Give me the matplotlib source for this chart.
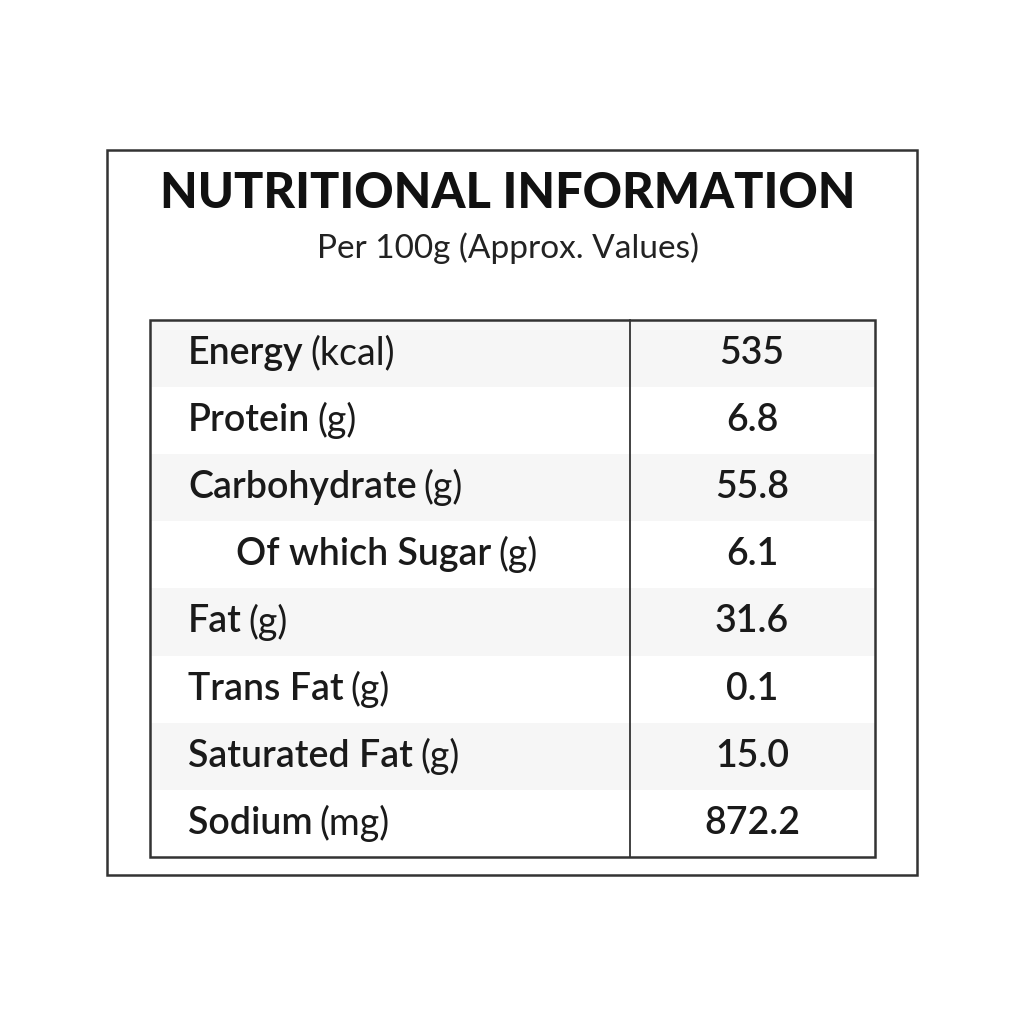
import matplotlib
matplotlib.use("Agg")
import matplotlib.pyplot as plt
from matplotlib.patches import Rectangle

nutrients = ["Energy", "Protein", "Carbohydrate", "Of which Sugar", "Fat", "Trans Fat", "Saturated Fat", "Sodium"]
units = ["(kcal)", "(g)", "(g)", "(g)", "(g)", "(g)", "(g)", "(mg)"]
indent = [0, 0, 0, 1, 0, 0, 0, 0]
values = ["535", "6.8", "55.8", "6.1", "31.6", "0.1", "15.0", "872.2"]

fig = plt.figure(figsize=(10.24, 10.24), dpi=100)
ax = fig.add_axes([0, 0, 1, 1])
ax.set_xlim(0, 1024); ax.set_ylim(1024, 0); ax.axis("off")
fam = ["Lato", "DejaVu Sans"]

ax.add_patch(Rectangle((107, 150), 810, 725, fill=False, ec="#333333", lw=1.8))
ax.text(508, 193, "NUTRITIONAL INFORMATION", ha="center", va="center", fontsize=35,
        fontweight="black", family=fam, color="#111111")
ax.text(508, 248, "Per 100g (Approx. Values)", ha="center", va="center", fontsize=24,
        family=fam, color="#222222")

top, rh, left, right, div = 320, 67.1, 150, 875, 630
for i, (n, u, ind, v) in enumerate(zip(nutrients, units, indent, values)):
    y0 = top + i * rh
    if i % 2 == 0:
        ax.add_patch(Rectangle((left, y0), right - left, rh, color="#f6f6f6", lw=0))
    yc = y0 + rh / 2
    x = 188 + ind * 48
    t = ax.text(x, yc, n, ha="left", va="center", fontsize=27, fontweight="semibold",
                family=fam, color="#1a1a1a")
    fig.canvas.draw()
    bb = t.get_window_extent().transformed(ax.transData.inverted())
    ax.text(bb.x1 + 7, yc, u, ha="left", va="center", fontsize=27, family=fam, color="#1a1a1a")
    ax.text(752, yc, v, ha="center", va="center", fontsize=27, fontweight="semibold",
            family=fam, color="#1a1a1a")

ax.add_patch(Rectangle((left, top), right - left, 8 * rh, fill=False, ec="#333333", lw=1.8))
ax.plot([div, div], [top, top + 8 * rh], color="#333333", lw=1.3)

fig.savefig("out.png", dpi=100, facecolor="white")
